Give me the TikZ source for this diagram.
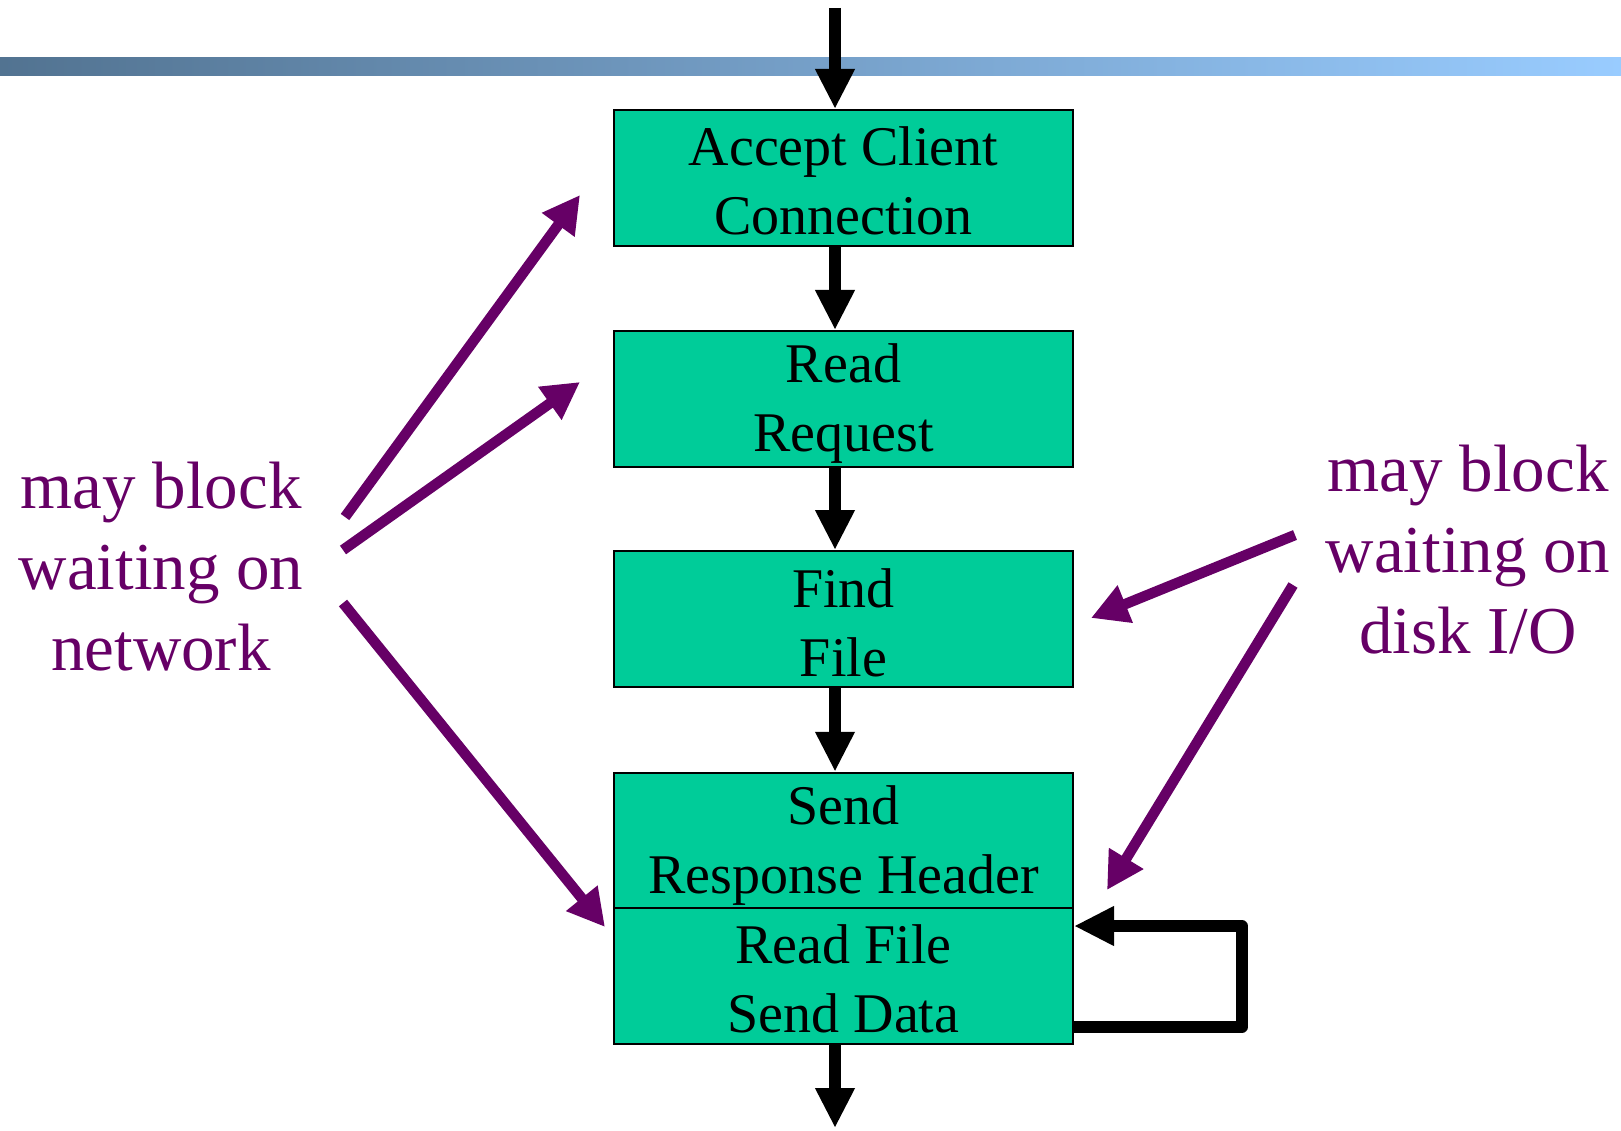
\documentclass[tikz,border=0pt]{standalone}
\usepackage{fontspec}
\setmainfont{Liberation Serif}
\usetikzlibrary{arrows.meta}
\definecolor{stepgreen}{HTML}{00CC99}
\definecolor{blockpurple}{HTML}{660066}
\definecolor{barleft}{RGB}{82,115,145}
\definecolor{barright}{RGB}{153,204,255}
% invisible strut that fixes the height and depth of each text line in a stage box
\newcommand\boxstrut{\rule[-3pt]{0pt}{51pt}}
\begin{document}
\begin{tikzpicture}[x=1pt,y=-1pt,
  stage/.style={draw=black, line width=2pt, fill=stepgreen, minimum width=459pt,
    minimum height=136pt, inner sep=0pt, align=center,
    font=\fontsize{56}{69}\selectfont},
  flow/.style={draw=black, line width=12pt, -{Triangle[width=37pt,length=40pt]}},
  hint/.style={draw=blockpurple, line width=10.5pt, -{Triangle[width=38pt,length=37pt]}},
  note/.style={text=blockpurple, align=center, font=\fontsize{67}{81}\selectfont}]
\useasboundingbox (0,0) rectangle (1621,1131);

% title rule
\shade[left color=barleft, right color=barright] (0,58) rectangle (1621,76);

% processing stages
\node[stage] (accept)  at (843.5,178)   {\boxstrut Accept Client\\\boxstrut Connection};
\node[stage] (request) at (843.5,399)   {\boxstrut Read\\\boxstrut Request};
\node[stage] (find)    at (843.5,619)   {\boxstrut Find\\\boxstrut File};
\node[stage, minimum height=135.5pt] (header) at (843.5,840.5) {\boxstrut Send\\\boxstrut Response Header};
\node[stage, minimum height=135.5pt] (data)   at (843.5,975.75) {\boxstrut Read File\\\boxstrut Send Data};

% main flow
\coordinate (entry) at (835,8);
\coordinate (exit)  at (835,1128);
\draw[flow] (entry) -- (entry |- accept.north);
\draw[flow] (accept.south -| entry) -- (request.north -| entry);
\draw[flow] (request.south -| entry) -- (find.north -| entry);
\draw[flow] (find.south -| entry) -- (header.north -| entry);
\draw[flow] (data.south -| entry) -- (exit);

% repeat loop on the data stage
\coordinate (loopcorner) at (1242,926);
\draw[flow, line width=11.5pt, line join=round]
  (data.east |- 0,1027) -| (loopcorner) -- (data.east |- loopcorner);

% blocking notes
\node[note] (netnote)  at (161,567)  {may block\\waiting on\\network};
\node[note] (disknote) at (1468,550) {may block\\waiting on\\disk I/O};

\coordinate (netA) at (345,517);
\coordinate (netB) at (343,550);
\coordinate (netC) at (343,603);
\coordinate (acceptIn)  at (580,195);
\coordinate (requestIn) at (580,382);
\coordinate (dataIn)    at (605,927);
\draw[hint] (netA) -- (acceptIn);
\draw[hint] (netB) -- (requestIn);
\draw[hint] (netC) -- (dataIn);

\coordinate (diskA) at (1295,535);
\coordinate (diskB) at (1293,585);
\coordinate (findIn)   at (1091,618);
\coordinate (headerIn) at (1107,890);
\draw[hint] (diskA) -- (findIn);
\draw[hint] (diskB) -- (headerIn);
\end{tikzpicture}
\end{document}
